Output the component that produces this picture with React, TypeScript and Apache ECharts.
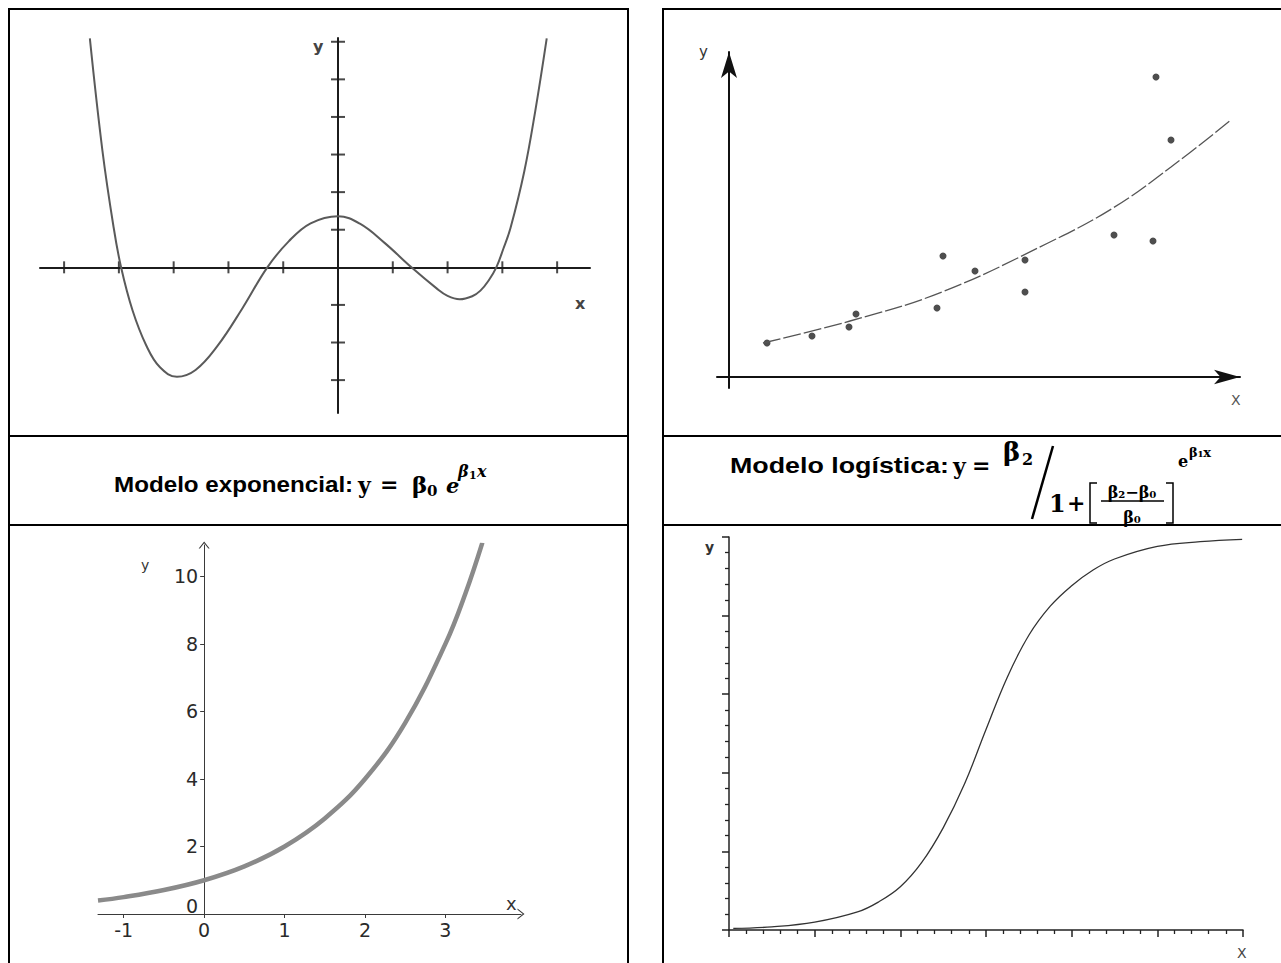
import React, { useEffect, useRef } from 'react';
import * as echarts from 'echarts';

// Panel A: quartic curve (x, y) traced through its roots and turning points
const quarticCurve: number[][] = [
  [-4.53, 6.09], [-4.3, 3.1], [-4.1, 1.1], [-3.96, 0], [-3.75, -1.15], [-3.5, -2.08],
  [-3.25, -2.66], [-2.94, -2.91], [-2.6, -2.73], [-2.2, -2.09], [-1.75, -1.1],
  [-1.29, 0], [-0.9, 0.69], [-0.5, 1.17], [0, 1.36], [0.4, 1.16], [0.85, 0.65],
  [1.34, 0], [1.8, -0.56], [2.0, -0.76], [2.22, -0.85], [2.45, -0.77], [2.6, -0.62],
  [2.75, -0.35], [2.89, 0], [3.02, 0.5], [3.15, 1.05], [3.4, 2.55], [3.6, 4.15], [3.81, 6.09],
];
const quarticXTicks = [-5, -4, -3, -2, -1, 1, 2, 3, 4];
const quarticYTicks = [-3, -2, -1, 1, 2, 3, 4, 5, 6];

// Panel B: observations and the fitted trend through them
const observedPoints: number[][] = [
  [3.8, 3.4], [8.3, 4.1], [12.0, 5.0], [12.7, 6.3], [20.8, 6.9], [21.4, 12.1],
  [24.6, 10.6], [29.6, 11.7], [29.6, 8.5], [38.5, 14.2], [42.4, 13.6], [42.7, 30.0],
  [44.2, 23.7],
];
const fittedTrend: number[][] = [
  [3.4, 3.4], [12.1, 5.6], [21.3, 8.5], [31.9, 13.4], [38.4, 16.9], [44.2, 21.0], [50.2, 25.7],
];

// Panel C: exponential model
const expXTicks = [-1, 0, 1, 2, 3];
const expYTicks = [0, 2, 4, 6, 8, 10];
const expCurve: number[][] = [
  [-1.32, 0.4], [-1, 0.5], [-0.5, 0.71], [0, 1], [0.5, 1.41], [1, 2], [1.5, 2.83],
  [2, 4], [2.5, 5.66], [3, 8], [3.25, 9.5], [3.46, 11],
];

// Panel D: logistic model
const logisticCurve: number[][] = [
  [0.05, 0.02], [0.5, 0.04], [1.0, 0.1], [1.5, 0.23], [1.75, 0.36], [2.0, 0.55],
  [2.25, 0.86], [2.5, 1.3], [2.75, 1.86], [3.0, 2.55], [3.25, 3.22], [3.5, 3.75],
  [3.75, 4.12], [4.0, 4.38], [4.25, 4.58], [4.5, 4.72], [5.0, 4.88], [5.5, 4.94],
  [5.99, 4.97],
];

// Captions
const captionExp = 'Modelo exponencial:';
const captionLog = 'Modelo logística:';

const CHEVRON = 'path://M0,7 L5.5,0 L11,7 L9.7,7 L5.5,1.7 L1.3,7 Z';
const SERIF = '"DejaVu Serif", serif';
const SANS = '"Liberation Sans", Arial, sans-serif';
const DV = '"DejaVu Sans", sans-serif';

// panel C plot box and x range (y axis sits at x = 0 inside it)
const EXP_LEFT = 98;
const EXP_WIDTH = 423;
const EXP_XMIN = -1.32;
const EXP_XMAX = 3.94;
const expZeroOffset = (-EXP_XMIN / (EXP_XMAX - EXP_XMIN)) * EXP_WIDTH;

const plainAxis = (extra: any) => ({
  type: 'value',
  splitLine: { show: false },
  axisTick: { show: false },
  axisLabel: { show: false },
  ...extra,
});

const hline = (x1: number, x2: number, y: number, w = 2) => ({
  type: 'line',
  shape: { x1, y1: y, x2, y2: y },
  style: { stroke: '#000', lineWidth: w },
  silent: true,
});
const vline = (x: number, y1: number, y2: number, w = 2) => ({
  type: 'line',
  shape: { x1: x, y1, x2: x, y2 },
  style: { stroke: '#000', lineWidth: w },
  silent: true,
});
const txt = (text: string, x: number, y: number, fontSize: number, opts: any = {}) => ({
  type: 'text',
  x,
  y,
  scaleX: opts.scaleX ?? 1,
  silent: true,
  style: {
    text,
    fill: opts.fill ?? '#000',
    fontSize,
    fontFamily: opts.fontFamily ?? SERIF,
    fontWeight: opts.fontWeight ?? 'bold',
    fontStyle: opts.fontStyle ?? 'normal',
    align: opts.align ?? 'left',
    verticalAlign: 'middle',
  },
});

function buildOption() {
  const light = { fontFamily: DV, fontWeight: 'normal' };
  return {
    animation: false,
    backgroundColor: '#ffffff',
    grid: [
      { left: 40, top: 38, width: 550, height: 375, outerBoundsMode: 'none' },
      { left: 717, top: 52, width: 523, height: 336, outerBoundsMode: 'none' },
      { left: EXP_LEFT, top: 545, width: EXP_WIDTH, height: 369, outerBoundsMode: 'none' },
      { left: 729, top: 537, width: 514, height: 393, outerBoundsMode: 'none' },
    ],
    xAxis: [
      plainAxis({
        gridIndex: 0, min: -5.44, max: 4.6,
        axisLine: { onZero: true, lineStyle: { color: '#1c1c1c', width: 2 } },
      }),
      plainAxis({
        gridIndex: 1, min: -1.2, max: 51.1,
        axisLine: {
          onZero: true, symbol: ['none', 'arrow'], symbolSize: [11, 26],
          lineStyle: { color: '#111', width: 2 },
        },
      }),
      {
        gridIndex: 2, type: 'value', min: EXP_XMIN, max: EXP_XMAX,
        splitLine: { show: false },
        axisLine: {
          onZero: true, symbol: ['none', CHEVRON], symbolSize: [11, 7],
          lineStyle: { color: '#3a3a3a', width: 1 },
        },
        axisTick: { show: true, customValues: expXTicks, length: 4, lineStyle: { color: '#3a3a3a' } },
        axisLabel: { customValues: expXTicks, color: '#2a2a2a', fontSize: 19, fontFamily: DV, margin: 6 },
      },
      {
        gridIndex: 3, type: 'value', min: 0, max: 6, interval: 1,
        splitLine: { show: false },
        axisLine: { onZero: true, lineStyle: { color: '#222', width: 1.5 } },
        axisTick: { show: true, length: 7, lineStyle: { color: '#222', width: 1.5 } },
        minorTick: { show: true, splitNumber: 5, length: 4, lineStyle: { color: '#222', width: 1.3 } },
        axisLabel: { show: false },
      },
    ],
    yAxis: [
      plainAxis({
        gridIndex: 0, min: -3.875, max: 6.1,
        axisLine: { onZero: true, lineStyle: { color: '#1c1c1c', width: 2 } },
      }),
      plainAxis({
        gridIndex: 1, min: -1.1, max: 32.5,
        axisLine: {
          onZero: true, symbol: ['none', 'arrow'], symbolSize: [12, 26],
          lineStyle: { color: '#111', width: 2 },
        },
      }),
      {
        gridIndex: 2, type: 'value', min: 0, max: 10.93,
        position: 'left',
        offset: -expZeroOffset,
        splitLine: { show: false },
        axisLine: {
          onZero: false, symbol: ['none', CHEVRON], symbolSize: [11, 7],
          lineStyle: { color: '#3a3a3a', width: 1 },
        },
        axisTick: { show: true, customValues: expYTicks, length: 4, lineStyle: { color: '#3a3a3a' } },
        axisLabel: {
          customValues: expYTicks, color: '#2a2a2a', fontSize: 19, fontFamily: DV, margin: 6,
          formatter: (v: number) => (v === 0 ? '{z|0}' : String(v)),
          rich: {
            z: { fontSize: 19, color: '#2a2a2a', fontFamily: DV, padding: [0, 0, 16, 0] },
          },
        },
      },
      {
        gridIndex: 3, type: 'value', min: 0, max: 5, interval: 1,
        splitLine: { show: false },
        axisLine: { onZero: true, lineStyle: { color: '#222', width: 1.5 } },
        axisTick: { show: true, length: 7, lineStyle: { color: '#222', width: 1.5 } },
        minorTick: { show: true, splitNumber: 5, length: 4, lineStyle: { color: '#222', width: 1.3 } },
        axisLabel: { show: false },
      },
    ],
    series: [
      {
        type: 'scatter', xAxisIndex: 0, yAxisIndex: 0, silent: true,
        data: quarticXTicks.map((v) => [v, 0]),
        symbol: 'rect', symbolSize: [2, 12], itemStyle: { color: '#1c1c1c' },
      },
      {
        type: 'scatter', xAxisIndex: 0, yAxisIndex: 0, silent: true,
        data: quarticYTicks.map((v) => [0, v]),
        symbol: 'rect', symbolSize: [14, 2], itemStyle: { color: '#1c1c1c' },
      },
      {
        type: 'line', xAxisIndex: 0, yAxisIndex: 0, silent: true,
        data: quarticCurve, smooth: 0.4, showSymbol: false,
        lineStyle: { color: '#5a5a5a', width: 2 },
      },
      {
        type: 'line', xAxisIndex: 1, yAxisIndex: 1, silent: true,
        data: fittedTrend, smooth: 0.4, showSymbol: false,
        lineStyle: { color: '#555', width: 1.3, type: [18, 3] },
      },
      {
        type: 'scatter', xAxisIndex: 1, yAxisIndex: 1, silent: true,
        data: observedPoints, symbol: 'circle', symbolSize: 7,
        itemStyle: { color: '#222' },
      },
      {
        type: 'line', xAxisIndex: 2, yAxisIndex: 2, silent: true,
        data: expCurve, smooth: 0.4, showSymbol: false,
        lineStyle: { color: '#8a8a8a', width: 4.5 },
      },
      {
        type: 'line', xAxisIndex: 3, yAxisIndex: 3, silent: true,
        data: logisticCurve, smooth: 0.4, showSymbol: false,
        lineStyle: { color: '#333', width: 1.3 },
      },
    ],
    graphic: [
      // table rules
      hline(8, 629, 9), hline(662, 1281, 9),
      hline(8, 629, 436), hline(662, 1281, 436),
      hline(8, 629, 525), hline(662, 1281, 525),
      vline(9, 8, 963), vline(628, 8, 963), vline(663, 8, 963),

      // axis names
      txt('y', 313, 46, 16, { fontFamily: DV, fill: '#444' }),
      txt('x', 575, 303, 16, { fontFamily: DV, fill: '#444' }),
      txt('y', 699, 52, 15, { ...light, fill: '#333' }),
      txt('X', 1231, 400, 14, { ...light, fill: '#555' }),
      txt('y', 141, 565, 14, { ...light, fill: '#333' }),
      txt('x', 506, 903, 18, { ...light, fill: '#333' }),
      txt('y', 705, 547, 14, { fontFamily: DV, fill: '#333' }),
      txt('X', 1237, 953, 14, { ...light, fill: '#444' }),

      // exponential caption
      txt(captionExp, 114, 484, 22, { fontFamily: SANS, scaleX: 1.1 }),
      txt('y', 358, 485, 22),
      txt('=', 380, 484, 22),
      txt('β', 412, 484, 23),
      txt('0', 427, 491, 15),
      txt('e', 446, 485, 21, { fontStyle: 'italic' }),
      txt('β', 458, 471, 16, { fontStyle: 'italic' }),
      txt('1', 469, 475, 11),
      txt('x', 477, 471, 16, { fontStyle: 'italic' }),

      // logistic caption
      txt(captionLog, 730, 465, 22, { fontFamily: SANS, scaleX: 1.22 }),
      txt('y', 953, 466, 22),
      txt('=', 972, 465, 22),
      txt('β', 1003, 452, 26),
      txt('2', 1022, 459, 16),
      {
        type: 'line', shape: { x1: 1053, y1: 446, x2: 1032, y2: 519 },
        style: { stroke: '#000', lineWidth: 2.5 }, silent: true,
      },
      txt('1', 1049, 503, 24),
      txt('+', 1067, 503, 22),
      {
        type: 'polyline', shape: { points: [[1097, 483], [1090, 483], [1090, 523], [1097, 523]] },
        style: { stroke: '#000', lineWidth: 1.5, fill: 'none' }, silent: true,
      },
      txt('β₂−β₀', 1132, 492, 16, { align: 'center' }),
      hline(1101, 1164, 501, 1.5),
      txt('β₀', 1132, 517, 16, { align: 'center' }),
      {
        type: 'polyline', shape: { points: [[1166, 483], [1173, 483], [1173, 523], [1166, 523]] },
        style: { stroke: '#000', lineWidth: 1.5, fill: 'none' }, silent: true,
      },
      txt('e', 1178, 461, 16),
      txt('β₁x', 1189, 452, 13),
    ],
  };
}

export default function App() {
  const ref = useRef<HTMLDivElement>(null);
  useEffect(() => {
    if (!ref.current) return;
    const chart = echarts.init(ref.current, undefined, { renderer: 'svg' });
    chart.setOption(buildOption() as any);
    return () => chart.dispose();
  }, []);
  return (
    <div
      ref={ref}
      style={{ position: 'absolute', left: 0, top: 0, width: 1281, height: 963, background: '#fff' }}
    />
  );
}
